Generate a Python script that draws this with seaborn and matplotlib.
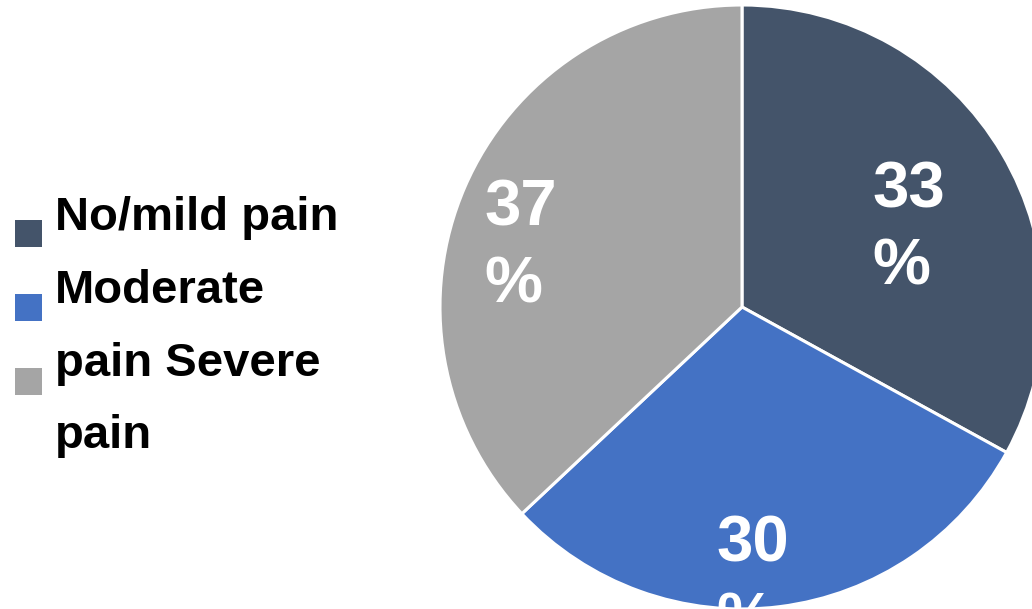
import numpy as np
import matplotlib
matplotlib.use("Agg")
import matplotlib.pyplot as plt
import seaborn as sns
from matplotlib.patches import Rectangle

# ---- data ----
categories = ["No/mild pain", "Moderate pain", "Severe pain"]
values = [33, 30, 37]
colors = ["#44546A", "#4472C4", "#A5A5A5"]
# legend text as wrapped in the reference
legend_lines = ["No/mild pain", "Moderate", "pain Severe", "pain"]
# label placement (fraction of radius, angular nudge in degrees)
label_r = [0.62, 0.89, 0.765]
label_dang = [3.5, 5.0, -6.5]
label_dy = -0.025

sns.set_theme(style="white")
plt.rcParams["font.family"] = ["Liberation Sans", "DejaVu Sans"]

W, H, DPI = 1032, 609, 100
fig = plt.figure(figsize=(W / DPI, H / DPI), dpi=DPI)
fig.patch.set_facecolor("white")

# pie axes: centre (742, 307 from top), radius 302 px
cx, cy_top, R = 742, 307, 302
lim = 1.01
half = R * lim
cy = H - cy_top
ax = fig.add_axes([(cx - half) / W, (cy - half) / H, 2 * half / W, 2 * half / H])
wedges, _ = ax.pie(values, colors=colors, startangle=90, counterclock=False,
                   radius=1.0,
                   wedgeprops=dict(edgecolor="white", linewidth=2.2))
ax.set_xlim(-lim, lim)
ax.set_ylim(-lim, lim)
ax.set_aspect("equal")
ax.axis("off")

for w, v, r, da in zip(wedges, values, label_r, label_dang):
    mid = np.deg2rad((w.theta1 + w.theta2) / 2.0 - da)
    ax.text(r * np.cos(mid), r * np.sin(mid) + label_dy, f"{v}\n%", color="white",
            fontsize=47, fontweight="bold", ha="center", va="center",
            multialignment="left", linespacing=1.36, clip_on=False)

# legend (custom, matching reference wrapping)
baselines = [230, 303, 376, 448]
sq_tops = [220, 294, 368]
for i, (line, yb) in enumerate(zip(legend_lines, baselines)):
    fig.text(55 / W, 1 - yb / H, line, fontsize=34, fontweight="bold",
             color="black", ha="left", va="baseline")
for col, top in zip(colors, sq_tops):
    fig.patches.append(Rectangle((15 / W, 1 - (top + 27) / H), 27 / W, 27 / H,
                                 transform=fig.transFigure, facecolor=col,
                                 edgecolor="none"))

fig.savefig("out.png", dpi=DPI, facecolor="white")
